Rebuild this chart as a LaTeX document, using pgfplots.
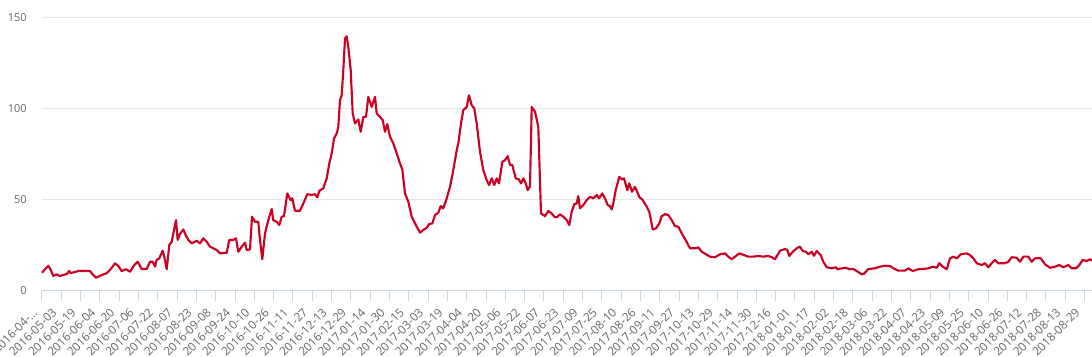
\documentclass[border=0pt]{standalone}
\usepackage{fontspec}
\setmainfont{Open Sans}
\usepackage{pgfplots}
\pgfplotsset{compat=1.18}
\definecolor{lbl}{HTML}{666666}
\definecolor{axl}{HTML}{CCD6EB}
\definecolor{grd}{HTML}{E6E6E6}
\definecolor{ln}{HTML}{CC0022}
\begin{document}
\begin{tikzpicture}
\begin{axis}[
  scale only axis,
  width=787.5pt, height=204.5pt,
  xmin=0, xmax=870.2, ymin=0, ymax=150,
  axis x line*=bottom, axis y line*=left,
  x axis line style={draw=axl, line width=0.75pt},
  y axis line style={draw=none},
  ytick={0,50,100,150},
  ymajorgrids, grid style={draw=grd, line width=0.75pt},
  ytick style={draw=none},
  xtick={0,16,...,864},
  xtick style={draw=axl, line width=0.75pt},
  tick align=outside, major tick length=7.5pt,
  xticklabels={2016-04-…,2016-05-03,2016-05-19,2016-06-04,2016-06-20,2016-07-06,2016-07-22,2016-08-07,2016-08-23,2016-09-08,2016-09-24,2016-10-10,2016-10-26,2016-11-11,2016-11-27,2016-12-13,2016-12-29,2017-01-14,2017-01-30,2017-02-15,2017-03-03,2017-03-19,2017-04-04,2017-04-20,2017-05-06,2017-05-22,2017-06-07,2017-06-23,2017-07-09,2017-07-25,2017-08-10,2017-08-26,2017-09-11,2017-09-27,2017-10-13,2017-10-29,2017-11-14,2017-11-30,2017-12-16,2018-01-01,2018-01-17,2018-02-02,2018-02-18,2018-03-06,2018-03-22,2018-04-07,2018-04-23,2018-05-09,2018-05-25,2018-06-10,2018-06-26,2018-07-12,2018-07-28,2018-08-13,2018-08-29},
  x tick label style={font=\fontsize{8.8pt}{9.5pt}\selectfont, text=lbl, inner sep=0pt, xshift=-2.8pt, yshift=-9.5pt, rotate=45, anchor=base east},
  y tick label style={font=\fontsize{8.25pt}{9pt}\selectfont, text=lbl, inner sep=0pt, xshift=-3.75pt, anchor=east},
  /pgf/number format/assume math mode=true,
  clip=false,
]
\addplot[ln, line width=1.6pt, line join=round, x filter/.expression={x/1.2066}] coordinates {
(0,9.9)(3,11.8)(6.3,13.6)(8,12.3)(11.3,8.1)(14.7,9.0)(18,8.1)(21.3,8.6)(24.7,9.2)(27.3,10.8)(28.7,9.6)(36.3,10.8)(48,10.8)(49.7,9.6)(54,7.1)(59.7,8.6)(64.7,9.6)(68,11.4)(73,15.0)(76.3,13.6)(79.7,10.8)(84,11.8)(88,10.4)(92.3,14.1)(95.7,15.9)(99.7,11.9)(104.7,11.9)(108,15.9)(110.7,15.9)(113,13.2)(114.7,16.9)(117.3,17.8)(120.7,22.0)(122.3,18.7)(124.7,11.8)(127.3,25.1)(129.7,26.9)(134,38.8)(135.7,27.9)(138,31.2)(141.3,33.7)(143,31.5)(146.3,27.9)(149.7,26.0)(154.7,27.5)(158,26.0)(161.3,28.8)(164.7,26.9)(168,24.2)(171.3,23.3)(174.7,22.4)(178,20.5)(184.7,20.9)(187.3,27.9)(191.3,27.9)(194,28.8)(196.3,21.4)
(199.7,24.2)(203,26.4)(204.7,22.4)(208,22.7)(210,40.7)(213,37.9)(216.3,37.9)(218,27.9)(220.3,17.3)(223,31.5)(226.3,38.8)(229.7,44.9)(231.3,38.8)(234.7,37.9)(237.3,36.1)(239.7,40.7)(242,41.0)(245.3,53.5)(248.7,49.8)(250.3,50.8)(253,44.0)(258,44.0)(261.3,48.0)(265.3,53.1)(269.7,52.7)(273,53.1)(275.3,51.3)(277.3,54.9)(281.3,56.3)(284.7,61.8)(287.3,70.0)(289.7,75.5)(292,83.7)(294.7,86.5)(296.3,90.1)(298,104.8)(299.7,107.5)(301.3,121.3)(303,138.7)(304.7,139.9)(306.3,134.1)(308.7,121.3)(310.7,97.5)(313,92.0)(316.3,94.2)(318.7,87.4)(321.3,95.6)(324,95.6)(326.3,106.6)(329.7,101.1)(333,106.6)(334.7,97.5)(338,95.6)(340.7,93.8)(343,87.4)(345.3,91.6)(348,84.6)(351.3,81.0)(354.7,75.5)(358,70.0)(360.3,66.7)(363,53.5)(366.3,48.9)(369.7,40.7)(373,37.0)
(378,31.9)(381.3,33.4)(384.7,34.6)(387,36.6)(390.3,37.0)(393,41.6)(396.3,42.9)(398.7,46.5)(401.3,45.3)(404.7,50.8)(408,57.1)(411.3,66.3)(414.7,77.3)(416.3,81.0)(419,92.0)(421.3,99.3)(424.7,101.1)(427,107.5)(429.7,102.0)(432.3,100.2)(434.7,92.0)(438,76.4)(441.3,66.3)(444.7,60.8)(447,58.1)(449.7,61.8)(452.3,58.1)(454.7,61.8)(457,59.0)(460.3,70.9)(463,71.8)(465.7,74.0)(468,69.1)(470.3,69.1)(473.7,61.8)(477,61.2)(479,59.0)(481.3,61.8)(483.7,59.0)(485.7,55.3)(488,57.5)(489.7,101.1)(493,98.4)(496.3,90.1)(499,42.5)(503,41.0)(506.3,43.8)(509.7,42.5)(512.3,40.7)(514.7,40.3)(518,42.0)(521.3,40.7)(524.7,38.8)(527.3,36.1)(529.7,43.4)(532.3,47.6)(534.7,48.0)(536.3,52.0)(538,45.3)(541.3,47.1)(544.7,49.8)(548,51.6)(551.3,50.8)(554.7,52.6)(557,50.8)(560.3,53.5)(563,50.8)(565.7,47.1)(568,46.5)
(569.7,44.7)(571.3,48.0)(573.7,55.3)(577.3,62.6)(579.7,61.2)(582,61.8)(585.3,55.3)(587.3,59.0)(590,54.4)(593,57.1)(597.3,51.6)(600.7,49.8)(604.7,46.2)(607.3,43.4)(610.7,33.7)(614,34.3)(617.3,37.0)(619.7,41.0)(623,42.1)(626.3,41.6)(629.7,38.8)(633,35.5)(636.3,35.2)(639.7,31.5)(644,27.5)(648,23.3)(653,23.3)(656.3,23.8)(659.7,21.4)(664,20.0)(668,18.7)(673,18.4)(678,20.0)(683,20.5)(686.3,18.7)(689.7,17.3)(693,18.7)(697.3,20.5)(702,19.6)(706.3,18.7)(711.3,18.7)(716.3,19.1)(721.3,18.7)(726.3,19.1)(729.7,18.4)(733,17.3)(738,22.0)(743,22.9)(745.3,22.4)(747.3,19.1)(750.7,21.4)(754.7,23.3)(758,24.2)(760.7,21.8)(764,21.4)(766.3,20.0)(769.7,21.4)(772,19.2)(774.7,21.8)(778.7,19.6)(781.3,15.9)(784.7,12.9)(789.7,12.3)(794,12.9)(795.3,11.8)(803,12.6)(808,11.8)(811.3,11.9)(814.7,10.8)(819.7,9.0)(822,9.3)(826.3,11.9)(833,12.3)(838,13.2)(843,13.7)(848,13.6)(851.3,12.3)(856.3,11.0)(863,11.0)(866.3,12.3)(870.7,10.8)(876.3,11.8)(881.3,11.9)(886.3,12.3)(890.7,13.2)(894.7,12.6)(897.3,15.1)(900.7,13.2)(904.7,11.8)(908,17.8)(911.3,18.7)(914.7,17.8)(918.7,20.0)(924.7,20.5)(928,19.6)(931.3,17.8)(934.7,15.1)(939.7,14.1)(943,15.1)(946.3,12.9)(949.7,15.1)(953,16.9)(956.3,15.1)(963,15.1)(966.3,15.9)(969.7,18.4)(974.7,18.1)(978,15.9)(981.3,18.7)(986.3,18.7)(989.7,15.9)(993,17.8)(998.7,17.8)(1003,14.5)(1008,12.6)(1013,13.2)(1017.3,14.1)(1021.3,12.9)(1026.3,14.1)(1029.7,12.3)(1034,12.3)(1037.3,14.1)(1040.7,16.9)(1044.7,16.3)(1048,17.3)(1050,16.5)
};
\end{axis}
\pgfresetboundingbox
\path[use as bounding box] ([xshift=-31.5pt,yshift=-49.7pt]current axis.south west) rectangle ([yshift=13.5pt]current axis.north east);
\end{tikzpicture}
\end{document}
